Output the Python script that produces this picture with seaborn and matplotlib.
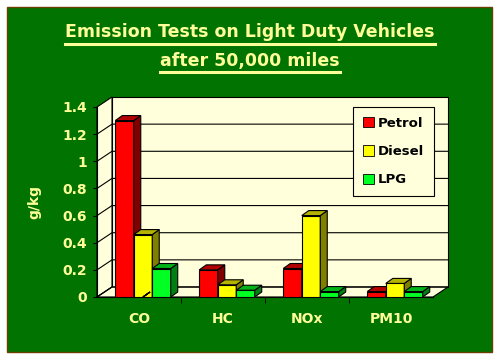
import pandas as pd
import seaborn as sns
import matplotlib.pyplot as plt
from matplotlib.patches import Rectangle, Polygon
from matplotlib.lines import Line2D
import matplotlib.colors as mcolors

# data
pollutants = ['CO', 'HC', 'NOx', 'PM10']
fuels = ['Petrol', 'Diesel', 'LPG']
petrol = [1.3, 0.2, 0.21, 0.04]
diesel = [0.46, 0.09, 0.6, 0.1]
lpg = [0.21, 0.05, 0.04, 0.04]
y_ticks = [0, 0.2, 0.4, 0.6, 0.8, 1.0, 1.2, 1.4]
y_ticklabels = ['0', '0.2', '0.4', '0.6', '0.8', '1', '1.2', '1.4']

df = pd.DataFrame({
    'pollutant': pollutants * 3,
    'fuel': [f for f in fuels for _ in pollutants],
    'value': petrol + diesel + lpg,
})

green_bg = '#007300'
cream = '#ffffdc'
txt = '#ffff99'
bar_colors = ['#ff0000', '#ffff00', '#00ff22']

plt.rcParams['font.family'] = ['DejaVu Sans']

fig = plt.figure(figsize=(5, 3.6), dpi=100)
fig.patch.set_facecolor('white')
fig.patches.append(Rectangle((7 / 500, 8 / 360), 485 / 500, 345 / 360,
                             transform=fig.transFigure, facecolor=green_bg,
                             edgecolor='#6a4000', linewidth=1, zorder=-10))

ax = fig.add_axes([97 / 500, 1 - 297 / 360, 336 / 500, 190 / 360])
ax.patch.set_visible(False)

sns.barplot(data=df, x='pollutant', y='value', hue='fuel', hue_order=fuels,
            palette=bar_colors, saturation=1, width=0.66, errorbar=None,
            edgecolor='black', linewidth=0.8, ax=ax)
bars = [p for p in ax.patches if isinstance(p, Rectangle)]

ax.set_xlim(-0.5, 3.5)
ax.set_ylim(0, 1.4)


def px(dx, dy):
    inv = ax.transData.inverted()
    x0, y0 = inv.transform((0, 0))
    x1, y1 = inv.transform((dx, dy))
    return x1 - x0, y1 - y0


# walls
wx, wy = px(15, 10)
x0, x1 = ax.get_xlim()
ytop = 1.4
kw = dict(facecolor=cream, edgecolor='black', linewidth=0.8, clip_on=False, zorder=0.5)
ax.add_patch(Polygon([(x0 + wx, wy), (x1 + wx, wy), (x1 + wx, ytop + wy), (x0 + wx, ytop + wy)], **kw))
ax.add_patch(Polygon([(x0, 0), (x0 + wx, wy), (x0 + wx, ytop + wy), (x0, ytop)], **kw))
ax.add_patch(Polygon([(x0, 0), (x1, 0), (x1 + wx, wy), (x0 + wx, wy)], **kw))
for t in y_ticks[:-1]:
    ax.plot([x0, x0 + wx, x1 + wx], [t, t + wy, t + wy], color='black',
            linewidth=0.8, clip_on=False, zorder=0.8)

# fake 3D faces on bars (bars nudged right by half their depth)
bx, by = px(7, 5)
shift, _ = px(4, 0)
for k, b in enumerate(sorted(bars, key=lambda p: p.get_x())):
    z = 3 + k * 0.01
    b.set_zorder(z)
    b.set_x(b.get_x() + shift)
    xl, w, h = b.get_x(), b.get_width(), b.get_height()
    c = mcolors.to_rgb(b.get_facecolor())
    side = tuple(v * 0.5 for v in c)
    top = tuple(v * 0.7 for v in c)
    ax.add_patch(Polygon([(xl + w, 0), (xl + w + bx, by), (xl + w + bx, h + by), (xl + w, h)],
                         facecolor=side, edgecolor='black', linewidth=0.8, zorder=z, clip_on=False))
    ax.add_patch(Polygon([(xl, h), (xl + w, h), (xl + w + bx, h + by), (xl + bx, h + by)],
                         facecolor=top, edgecolor='black', linewidth=0.8, zorder=z, clip_on=False))

# axes styling
for s in ['top', 'right']:
    ax.spines[s].set_visible(False)
for s in ['left', 'bottom']:
    ax.spines[s].set_color('black')
    ax.spines[s].set_linewidth(0.8)
ax.set_yticks(y_ticks)
ax.set_yticklabels(y_ticklabels)
ax.set_xticks(range(len(pollutants)))
ax.set_xticklabels(pollutants)
ax.set_xticks([0.5, 1.5, 2.5], minor=True)
ax.tick_params(axis='x', which='major', length=0, pad=11, colors=txt, labelsize=10)
ax.tick_params(axis='x', which='minor', length=4, color='black')
ax.tick_params(axis='y', length=3, color='black', labelcolor=txt, labelsize=10, pad=4)
for lab in ax.get_xticklabels() + ax.get_yticklabels():
    lab.set_fontweight('bold')
ax.set_xlabel('')
ax.set_ylabel('g/kg', color=txt, fontsize=10, fontweight='bold', labelpad=15)

leg = ax.legend(loc='upper right', bbox_to_anchor=(1.003, 1.0), borderaxespad=0,
                frameon=True, fancybox=False, facecolor=cream, edgecolor='black',
                framealpha=1, prop={'weight': 'bold', 'size': 9.5}, handlelength=0.8,
                handleheight=0.8, handletextpad=0.3, labelspacing=1.15, borderpad=0.75)
leg.get_frame().set_linewidth(0.8)
leg.set_zorder(10)
for h in leg.legend_handles:
    h.set_edgecolor('black')
    h.set_linewidth(0.6)

# title with underlines
t1 = fig.text(0.5, 1 - 32 / 360, 'Emission Tests on Light Duty Vehicles', ha='center',
              va='center', color=txt, fontsize=12.5, fontweight='bold')
t2 = fig.text(0.5, 1 - 61 / 360, 'after 50,000 miles', ha='center', va='center',
              color=txt, fontsize=12.5, fontweight='bold')
fig.canvas.draw()
for t, yline in [(t1, 44), (t2, 72)]:
    bb = t.get_window_extent()
    fig.add_artist(Line2D([bb.x0 / 500, bb.x1 / 500], [1 - yline / 360] * 2,
                          transform=fig.transFigure, color=txt, linewidth=2.2))

fig.savefig('out.png', dpi=100)
